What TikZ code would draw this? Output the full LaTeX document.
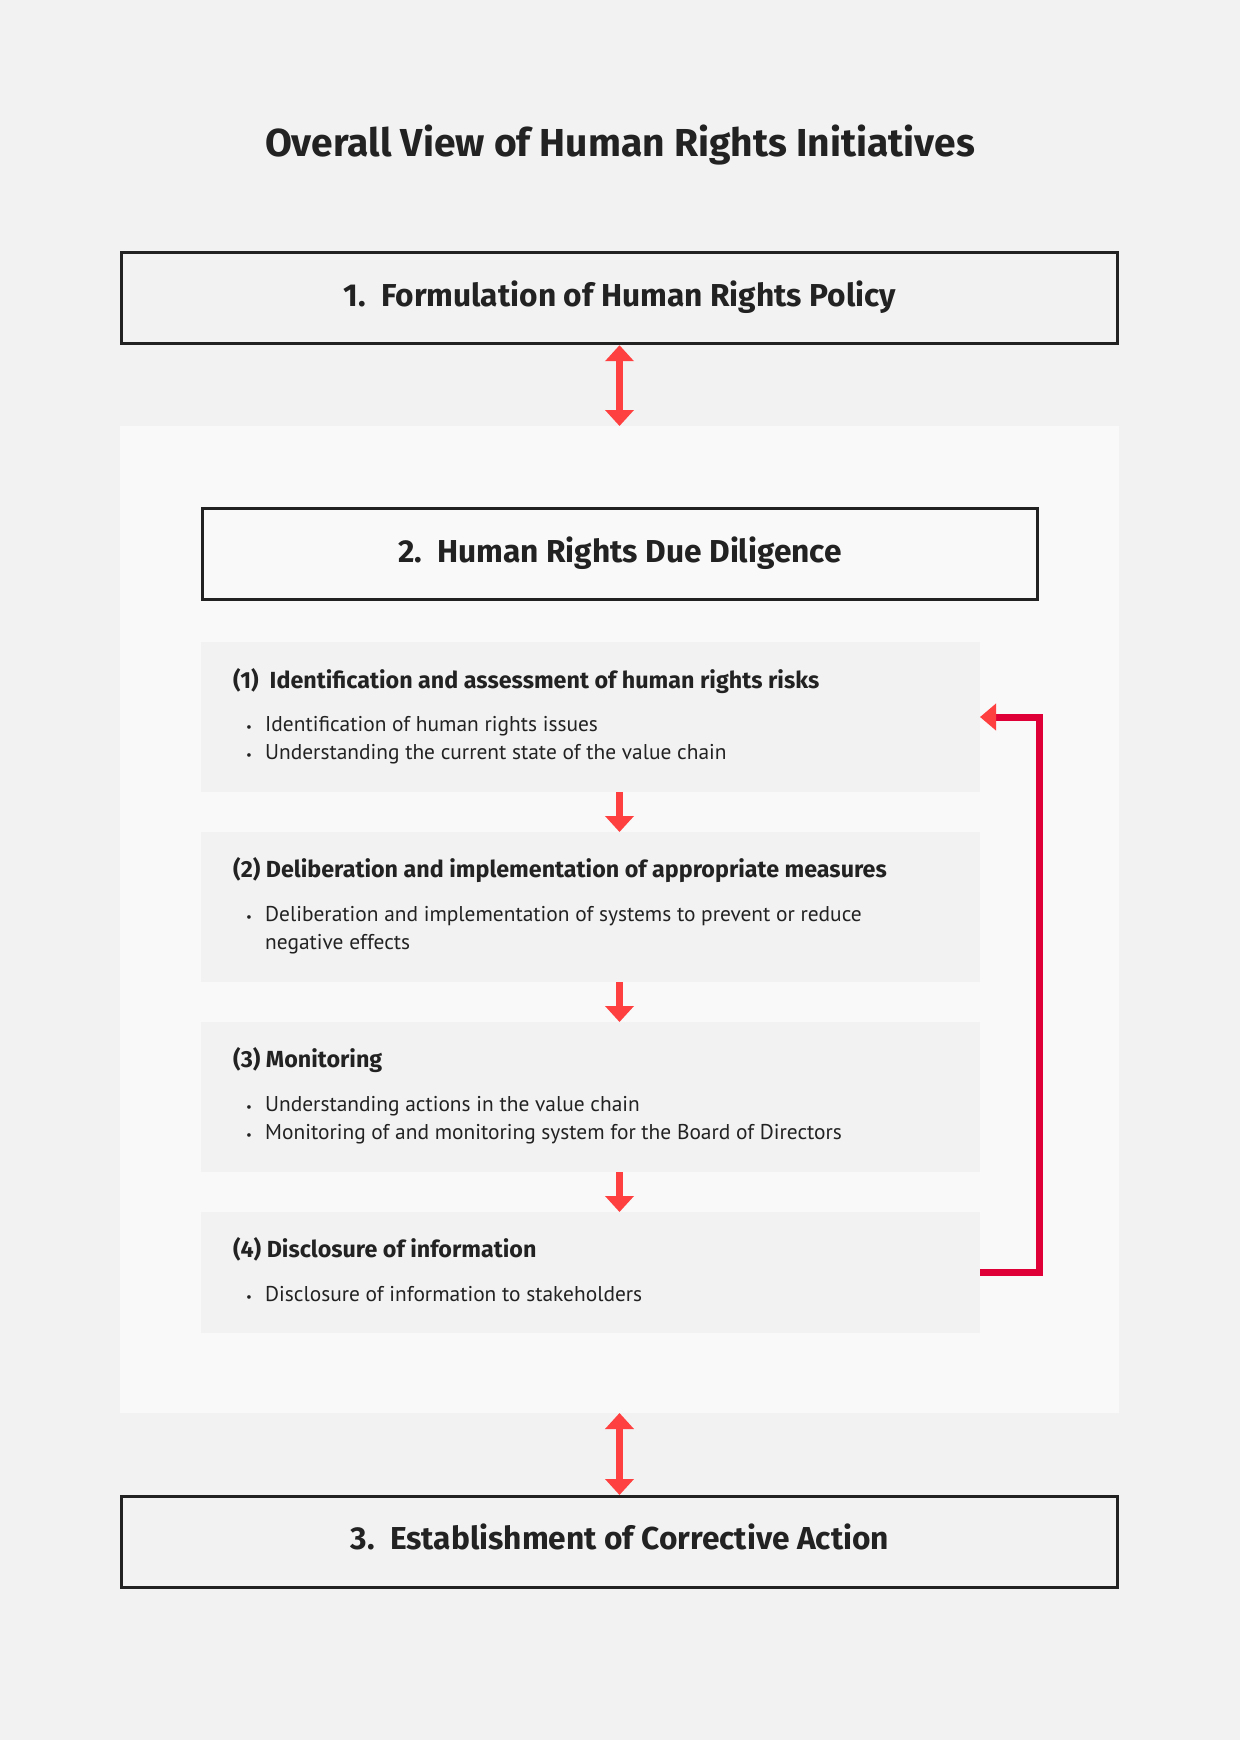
\documentclass[tikz,border=0pt]{standalone}
\usepackage{fontspec}
\setmainfont{PT Sans}
\newfontfamily\boldface{Fira Sans}
\usetikzlibrary{arrows.meta}
\definecolor{bg}{HTML}{F2F2F2}
\definecolor{panelc}{HTML}{F9F9F9}
\definecolor{subc}{HTML}{F2F2F2}
\definecolor{ink}{HTML}{222222}
\definecolor{arr}{HTML}{FF4040}
\definecolor{crim}{HTML}{DF0038}
\tikzset{
  mainbox/.style={draw=ink, line width=3pt, rectangle, inner sep=0pt, outer sep=0pt, anchor=north west},
  subbox/.style={fill=subc, rectangle, inner sep=0pt, outer sep=0pt, anchor=north west, minimum width=779pt},
  titletext/.style={font=\boldface\fontsize{39}{46}\selectfont\bfseries, text=ink, anchor=base, inner sep=0pt},
  headtext/.style={font=\boldface\fontsize{31.7}{38}\selectfont\bfseries, text=ink, anchor=base, inner sep=0pt},
  subtitle/.style={font=\boldface\fontsize{23.3}{28}\selectfont\bfseries, text=ink, anchor=base west, inner sep=0pt},
  bullettext/.style={font=\fontsize{21.4}{26}\selectfont, text=ink, anchor=base west, inner sep=0pt},
  bulletdot/.style={font=\fontsize{13}{16}\selectfont, text=ink, anchor=base, inner sep=0pt},
  dblarrow/.style={draw=arr, line width=7pt, {Triangle[length=16pt,width=28pt]}-{Triangle[length=16pt,width=28pt]}},
  downarrow/.style={draw=arr, line width=7pt, -{Triangle[length=16pt,width=28pt]}},
  fbarrow/.style={draw=crim, line width=7pt, line join=miter, -{Triangle[length=16pt,width=26pt,color=arr]}}
}
\begin{document}
\begin{tikzpicture}[x=1pt,y=-1pt]
\fill[bg] (0,0) rectangle (1240,1740);
\useasboundingbox (0,0) rectangle (1240,1740);

\node[titletext] (title) at (620,156) {Overall View of Human Rights Initiatives};

% box 1
\node[mainbox, minimum width=996pt, minimum height=91.5pt] (p1) at (121.5,252.2) {};
\node[headtext] (h1) at (620,306) {1.\ \ Formulation of Human Rights Policy};

% panel
\node[fill=panelc, rectangle, inner sep=0pt, outer sep=0pt, anchor=north west, minimum width=999pt, minimum height=987pt] (panel) at (120,426) {};

% box 2
\node[mainbox, minimum width=835.3pt, minimum height=91pt] (p2) at (202.2,508.2) {};
\node[headtext] (h2) at (620,562) {2.\ \ Human Rights Due Diligence};

% sub boxes
\node[subbox, minimum height=150pt] (s1) at (201,642) {};
\node[subbox, minimum height=150pt] (s2) at (201,832) {};
\node[subbox, minimum height=150pt] (s3) at (201,1022) {};
\node[subbox, minimum height=121pt] (s4) at (201,1212) {};

\node[subtitle] (s1t) at (233,688) {(1)\ \ Identification and assessment of human rights risks};
\node[bulletdot] (s1d1) at (249,731.5) {•};
\node[bullettext] (s1a) at (265,731.5) {Identification of human rights issues};
\node[bulletdot] (s1d2) at (249,759.5) {•};
\node[bullettext] (s1b) at (265,759.5) {Understanding the current state of the value chain};

\node[subtitle] (s2t) at (233,877.5) {(2) Deliberation and implementation of appropriate measures};
\node[bulletdot] (s2d1) at (249,921.5) {•};
\node[bullettext] (s2a) at (265,921.5) {Deliberation and implementation of systems to prevent or reduce};
\node[bullettext] (s2b) at (265,949.5) {negative effects};

\node[subtitle] (s3t) at (233,1067.5) {(3) Monitoring};
\node[bulletdot] (s3d1) at (249,1111.5) {•};
\node[bullettext] (s3a) at (265,1111.5) {Understanding actions in the value chain};
\node[bulletdot] (s3d2) at (249,1139.5) {•};
\node[bullettext] (s3b) at (265,1139.5) {Monitoring of and monitoring system for the Board of Directors};

\node[subtitle] (s4t) at (233,1257.5) {(4) Disclosure of information};
\node[bulletdot] (s4d1) at (249,1301.5) {•};
\node[bullettext] (s4a) at (265,1301.5) {Disclosure of information to stakeholders};

% box 3
\node[mainbox, minimum width=996pt, minimum height=91pt] (p3) at (121.5,1496.5) {};
\node[headtext] (h3) at (620,1549.5) {3.\ \ Establishment of Corrective Action};

% arrows
\draw[dblarrow, shorten <=1.5pt] (p1.south) -- (panel.north);
\draw[dblarrow, shorten >=1.5pt] (panel.south) -- (p3.north);
\draw[downarrow] (p1.center |- s1.south) -- (p1.center |- s2.north);
\draw[downarrow] (p1.center |- s2.south) -- (p1.center |- s3.north);
\draw[downarrow] (p1.center |- s3.south) -- (p1.center |- s4.north);
\draw[fbarrow] (s4.east) -- ++(59.5,0) |- (s1.east);
\end{tikzpicture}
\end{document}
